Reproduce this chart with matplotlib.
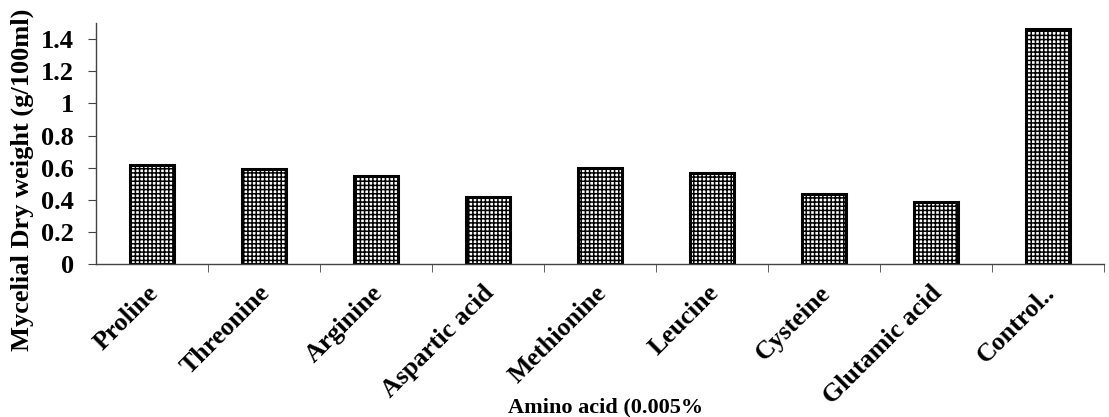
import numpy as np
import matplotlib.pyplot as plt
from matplotlib.transforms import ScaledTranslation

amino_acids = ["Proline", "Threonine", "Arginine", "Aspartic acid", "Methionine",
               "Leucine", "Cysteine", "Glutamic acid", "Control.."]
dry_weight = [0.62, 0.59, 0.55, 0.42, 0.60, 0.57, 0.44, 0.39, 1.46]
y_ticks = [0, 0.2, 0.4, 0.6, 0.8, 1, 1.2, 1.4]
y_tick_labels = ["0", "0.2", "0.4", "0.6", "0.8", "1", "1.2", "1.4"]

plt.rcParams['font.family'] = ['Liberation Serif', 'DejaVu Serif']
plt.rcParams['font.weight'] = 'bold'
plt.rcParams['hatch.color'] = 'black'
plt.rcParams['hatch.linewidth'] = 1.1

fig = plt.figure(figsize=(11.09, 4.17), dpi=100)
ax = fig.add_axes([0.0866, 0.366, 0.9089, 0.579])

x = np.arange(len(amino_acids))
ax.bar(x, dry_weight, width=0.4, facecolor='white', edgecolor='black',
       hatch='++++', linewidth=2.2)

ax.set_xlim(-0.5, len(amino_acids) - 0.5)
ax.set_ylim(0, 1.5)

ax.set_yticks(y_ticks)
ax.set_yticklabels(y_tick_labels, fontsize=19, fontweight='bold')
ax.set_xticks(x)
ax.set_xticklabels(amino_acids, rotation=45, ha='right', va='center',
                   rotation_mode='anchor', fontsize=18.7, fontweight='bold')
ax.set_xticks(np.arange(len(amino_acids)) + 0.5, minor=True)
ax.tick_params(axis='x', which='major', length=0, pad=18)
ax.tick_params(axis='x', which='minor', length=6, direction='out', color='#444444')
ax.tick_params(axis='y', length=6, direction='out', color='#444444', pad=10)

# nudge the slanted labels a little to the right, as in the original
for lab in ax.get_xticklabels():
    lab.set_transform(lab.get_transform() + ScaledTranslation(2 / 72, 0, fig.dpi_scale_trans))

for side in ['top', 'right']:
    ax.spines[side].set_visible(False)
for side in ['left', 'bottom']:
    ax.spines[side].set_color('#444444')
    ax.spines[side].set_linewidth(1)

ax.set_ylabel("Mycelial Dry weight (g/100ml)", fontsize=19, fontweight='bold')
ax.yaxis.set_label_coords(-0.062, 0.35)
ax.set_xlabel("Amino acid (0.005%", fontsize=16, fontweight='bold', va='top')
ax.xaxis.set_label_coords(0.505, -0.55)

plt.savefig('out.png', dpi=100)
plt.close()
